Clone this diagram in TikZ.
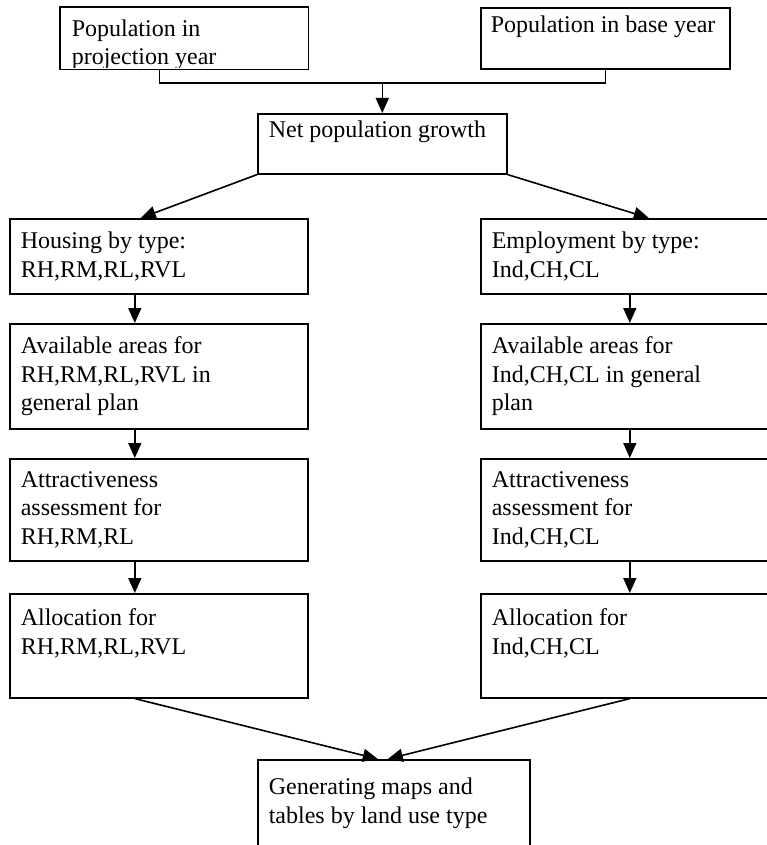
\documentclass[tikz,border=0pt]{standalone}
\usepackage{fontspec}
\setmainfont{Liberation Serif}
\usetikzlibrary{arrows.meta}

\begin{document}
\begin{tikzpicture}[x=1pt,y=-1pt,line width=1.6pt,font=\fontsize{24}{28.5}\selectfont,
	block/.style={draw,anchor=north west,align=flush left,inner xsep=11pt,inner ysep=0pt},
	arr/.style={-{Triangle[length=15pt,width=13pt]}}]
	\clip (0,0) rectangle (767,845);
	% top row
	\begin{scope}
		\clip (60,7) rectangle (307,68);
		\node[anchor=north west,inner xsep=11pt,inner ysep=4pt,text height=53pt,text depth=0pt] (p1) at (60,7) {\parbox[b]{225pt}{Population in\\projection year}};
	\end{scope}
	\draw (p1.north west) rectangle (p1.south east);
	\node[block,inner xsep=10pt,text width=229pt,minimum height=61pt] (p2) at (480,7) {Population in base year\\~};
	\node[block,text width=227pt,minimum height=60pt] (net) at (257,113) {Net population growth\\~};
	% left column
	\node[block,text width=276pt,minimum height=75pt] (h1) at (9,218) {Housing by type:\\RH,RM,RL,RVL};
	\node[block,text width=276pt,minimum height=105pt] (h2) at (9,323) {Available areas for\\RH,RM,RL,RVL in\\general plan};
	\node[block,text width=276pt,minimum height=102pt] (h3) at (9,458) {Attractiveness\\assessment for\\RH,RM,RL};
	\node[block,text width=276pt,minimum height=104pt] (h4) at (9,593) {Allocation for\\RH,RM,RL,RVL\\~};
	% right column
	\node[block,text width=276pt,minimum height=75pt] (e1) at (480,218) {Employment by type:\\Ind,CH,CL};
	\node[block,text width=276pt,minimum height=105pt] (e2) at (480,323) {Available areas for\\Ind,CH,CL in general\\plan};
	\node[block,text width=276pt,minimum height=102pt] (e3) at (480,458) {Attractiveness\\assessment for\\Ind,CH,CL};
	\node[block,text width=276pt,minimum height=104pt] (e4) at (480,593) {Allocation for\\Ind,CH,CL\\~};
	% result
	\node[block,text width=250pt,minimum height=110pt] (gen) at (257,759) {Generating maps and\\tables by land use type\\~};
	% connectors
	\coordinate (join) at (net.north |- 0,83);
	\draw ([xshift=-25pt]p1.south) |- (join) -| (p2.south);
	\draw[arr] (join) -- (net.north);
	\draw[arr] (net.south west) -- ([xshift=-18pt]h1.north);
	\draw[arr] (net.south east) -- ([xshift=19pt]e1.north);
	\draw[arr] ([xshift=-24pt]h1.south) -- ([xshift=-24pt]h2.north);
	\draw[arr] ([xshift=-24pt]h2.south) -- ([xshift=-24pt]h3.north);
	\draw[arr] ([xshift=-24pt]h3.south) -- ([xshift=-24pt]h4.north);
	\draw[arr] (e1) -- (e2);
	\draw[arr] (e2) -- (e3);
	\draw[arr] (e3) -- (e4);
	\draw[arr] ([xshift=-24pt]h4.south) -- ([xshift=-16pt]gen.north);
	\draw[arr] (e4.south) -- ([xshift=-6pt]gen.north);
\end{tikzpicture}
\end{document}
